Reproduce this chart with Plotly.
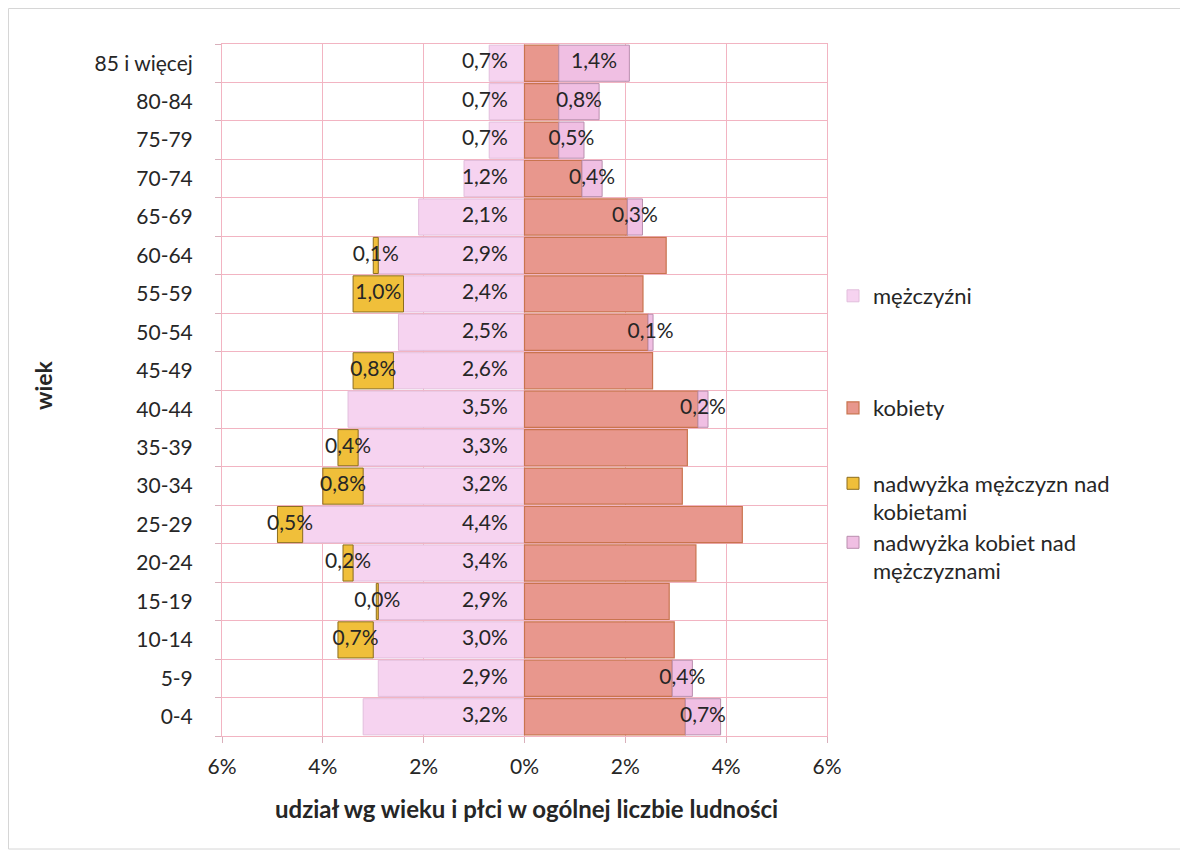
import plotly.graph_objects as go

# ---------------- data (percent of total population) ----------------
ages = ["85 i więcej", "80-84", "75-79", "70-74", "65-69", "60-64", "55-59",
        "50-54", "45-49", "40-44", "35-39", "30-34", "25-29", "20-24",
        "15-19", "10-14", "5-9", "0-4"]
men = [0.7, 0.7, 0.7, 1.2, 2.1, 2.9, 2.4, 2.5, 2.6, 3.5, 3.3, 3.2, 4.4, 3.4,
       2.9, 3.0, 2.9, 3.2]
women = [0.68, 0.68, 0.68, 1.14, 2.04, 2.81, 2.35, 2.45, 2.54, 3.44, 3.23,
         3.13, 4.32, 3.4, 2.87, 2.97, 2.93, 3.19]
excess_men = [0, 0, 0, 0, 0, 0.1, 1.0, 0, 0.8, 0, 0.4, 0.8, 0.5, 0.2,
              0.04, 0.7, 0, 0]
excess_women = [1.4, 0.8, 0.5, 0.4, 0.3, 0, 0, 0.1, 0, 0.2, 0, 0, 0, 0,
                0, 0, 0.4, 0.7]
x_ticks = [-6, -4, -2, 0, 2, 4, 6]
x_tick_labels = ["6%", "4%", "2%", "0%", "2%", "4%", "6%"]

# ---------------- styling ----------------
FONT = "Lato, 'Open Sans', sans-serif"
TXT = "#262626"
GRID = "#f2b4c2"
C_MEN = "#f6d3f0"
C_WOMEN = "#e8978d"
C_EXM = "#f0bf3a"
C_EXW = "#f0bfe3"
MEN_LABEL_OFFSET = 0.33


def fmt(v):
    return f"{v:.1f}".replace(".", ",") + "%"


def nz(vals, sign=1):
    return [sign * v if v else None for v in vals]


fig = go.Figure()
fig.add_trace(go.Bar(
    y=ages, x=nz(men, -1), orientation="h", name="mężczyźni",
    marker=dict(color=C_MEN, line=dict(color="#e2bedc", width=1)),
    legend="legend", hoverinfo="skip"))
fig.add_trace(go.Bar(
    y=ages, x=nz(women), orientation="h", name="kobiety",
    marker=dict(color=C_WOMEN, line=dict(color="#c9744f", width=1.2)),
    legend="legend2", hoverinfo="skip"))
fig.add_trace(go.Bar(
    y=ages, x=nz(excess_men, -1), orientation="h",
    name="nadwyżka mężczyzn nad<br>kobietami",
    marker=dict(color=C_EXM, line=dict(color="#8c6d1f", width=1)),
    legend="legend3", hoverinfo="skip"))
fig.add_trace(go.Bar(
    y=ages, x=nz(excess_women), orientation="h",
    name="nadwyżka kobiet nad<br>mężczyznami",
    marker=dict(color=C_EXW, line=dict(color="#b98eae", width=1)),
    legend="legend4", hoverinfo="skip"))

# labels: men values near the zero line
fig.add_trace(go.Scatter(
    y=ages, x=[-MEN_LABEL_OFFSET] * len(ages), mode="text",
    text=[fmt(v) for v in men], textposition="middle left",
    textfont=dict(family=FONT, size=21, color=TXT),
    showlegend=False, hoverinfo="skip", cliponaxis=False))

# labels: excess of men, centred on the yellow segment
em_y = [a for a, e in zip(ages, excess_men) if e]
em_x = [-(m + e / 2) for m, e in zip(men, excess_men) if e]
em_t = [fmt(e) for e in excess_men if e]
fig.add_trace(go.Scatter(
    y=em_y, x=em_x, mode="text", text=em_t, textposition="middle center",
    textfont=dict(family=FONT, size=21, color=TXT),
    showlegend=False, hoverinfo="skip", cliponaxis=False))

# labels: excess of women, centred on the pink segment
ew_y = [a for a, e in zip(ages, excess_women) if e]
ew_x = [w + e / 2 for w, e in zip(women, excess_women) if e]
ew_t = [fmt(e) for e in excess_women if e]
fig.add_trace(go.Scatter(
    y=ew_y, x=ew_x, mode="text", text=ew_t, textposition="middle center",
    textfont=dict(family=FONT, size=21, color=TXT),
    showlegend=False, hoverinfo="skip", cliponaxis=False))

# page body adds an 8px offset: work in screen pixels, convert to figure px
OFF = 8
W, H = 1188 - OFF, 851 - OFF
L = 222 - OFF
R = 827 - OFF
T = 44 - OFF
B = 736 - OFF


def px_to_paper_x(sx):
    return (sx - OFF - L) / (R - L)


def px_to_paper_y(sy):
    return (B - (sy - OFF)) / (B - T)


legend_common = dict(font=dict(family=FONT, size=22, color=TXT),
                     xanchor="left", yanchor="middle", valign="top",
                     bgcolor="rgba(0,0,0,0)", itemwidth=30)

fig.update_layout(
    width=W, height=H,
    margin=dict(l=L, r=W - R, t=T, b=H - B, autoexpand=False),
    paper_bgcolor="white", plot_bgcolor="white",
    barmode="relative", bargap=0.06,
    font=dict(family=FONT, size=21, color=TXT),
    legend=dict(x=px_to_paper_x(833), y=px_to_paper_y(296), **legend_common),
    legend2=dict(x=px_to_paper_x(833), y=px_to_paper_y(408), **legend_common),
    legend3=dict(x=px_to_paper_x(833), y=px_to_paper_y(498), **legend_common),
    legend4=dict(x=px_to_paper_x(833), y=px_to_paper_y(557), **legend_common),
    xaxis=dict(range=[-6, 6], tickvals=x_ticks, ticktext=x_tick_labels,
               showgrid=True, gridcolor=GRID, gridwidth=1,
               zeroline=True, zerolinecolor=GRID, zerolinewidth=1,
               showline=True, mirror=True, linecolor=GRID,
               ticks="outside", ticklen=6, tickcolor="#d9b0bb",
               tickfont=dict(family=FONT, size=21, color=TXT),
               ticklabelstandoff=6, automargin=False, fixedrange=True),
    yaxis=dict(type="category", categoryorder="array",
               categoryarray=ages[::-1], range=[-0.5, len(ages) - 0.5],
               tickson="boundaries",
               showgrid=True, gridcolor=GRID, gridwidth=1,
               showline=True, mirror=True, linecolor=GRID,
               ticks="outside", ticklen=6, tickcolor="#d9b0bb",
               tickfont=dict(family=FONT, size=21, color=TXT),
               ticklabelstandoff=24, automargin=False, fixedrange=True),
    annotations=[
        dict(text="<b>wiek</b>", textangle=-90, xref="paper", yref="paper",
             x=px_to_paper_x(43), y=px_to_paper_y(385), showarrow=False,
             font=dict(family=FONT, size=23, color=TXT),
             xanchor="center", yanchor="middle"),
        dict(text="<b>udział wg wieku i płci w ogólnej liczbie ludności</b>",
             xref="paper", yref="paper",
             x=px_to_paper_x(526), y=px_to_paper_y(808), showarrow=False,
             font=dict(family=FONT, size=24, color=TXT),
             xanchor="center", yanchor="middle"),
    ],
    shapes=[dict(type="rect", xref="paper", yref="paper",
                 x0=px_to_paper_x(8.5), x1=px_to_paper_x(1186),
                 y0=px_to_paper_y(849), y1=px_to_paper_y(8.5),
                 line=dict(color="#d6d6d6", width=1), layer="below")],
)

fig.write_html("out.html")
